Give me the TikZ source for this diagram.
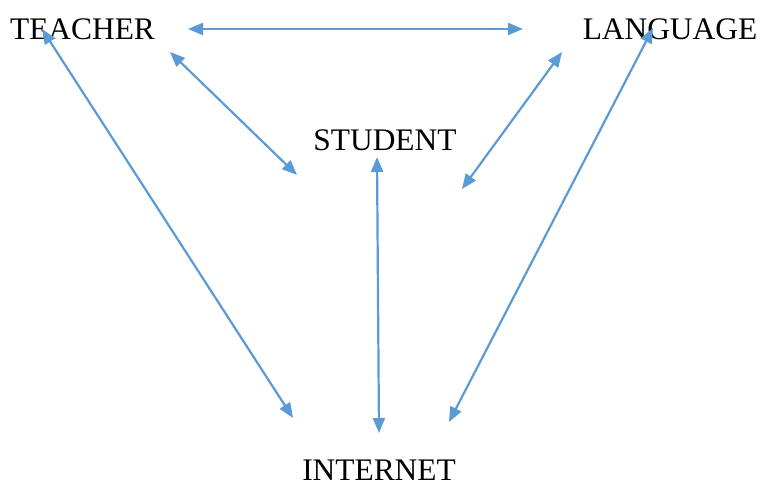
\documentclass[tikz,border=0pt]{standalone}
\usepackage{fontspec}
\setmainfont{Liberation Serif}
\usetikzlibrary{arrows.meta}
\definecolor{linkblue}{RGB}{91,155,213}

\begin{document}
\begin{tikzpicture}
   [x=1pt,y=-1pt,
    word/.style={inner sep=0pt,font=\fontsize{31.4}{36}\selectfont},
    link/.style={linkblue,line width=2.2pt,{Triangle[length=15pt,width=12pt]}-{Triangle[length=15pt,width=12pt]}}]
\useasboundingbox (0,0) rectangle (761,485);

\node[word] (teacher) at (82.5,29) {TEACHER};
\node[word] (language) at (670,29) {LANGUAGE};
\node[word] (student) at (385,140.5) {STUDENT};
\node[word] (internet) at (379,470) {INTERNET};

% arrow ends
\coordinate (tR) at (188,29);   \coordinate (lL) at (523,29);
\coordinate (tS) at (170,52);   \coordinate (sT) at (297,175);
\coordinate (lS) at (562,52);   \coordinate (sL) at (462,189);
\coordinate (tI) at (42,29);    \coordinate (iT) at (293,418);
\coordinate (lI) at (653,28);   \coordinate (iL) at (449,422);
\coordinate (sI) at (377,157);  \coordinate (iS) at (379,433);

\draw[link] (tR)--(lL);
\draw[link] (tS)--(sT);
\draw[link] (lS)--(sL);
\draw[link] (tI)--(iT);
\draw[link] (lI)--(iL);
\draw[link] (sI)--(iS);
\end{tikzpicture}
\end{document}
